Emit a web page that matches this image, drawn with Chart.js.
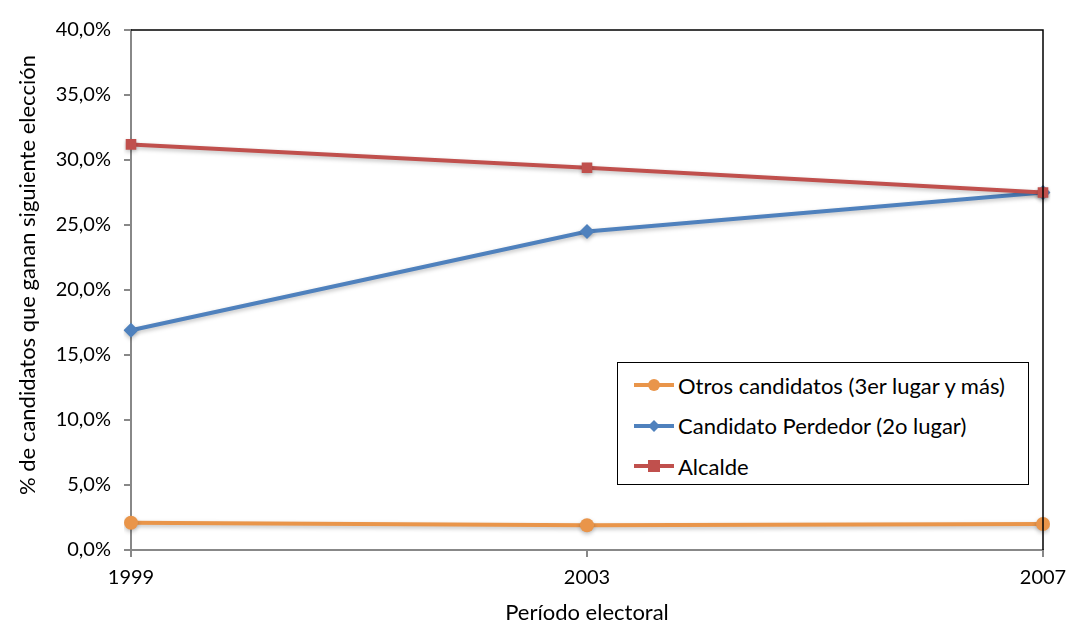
<!DOCTYPE html>
<html>
<head>
<meta charset="utf-8">
<script src="https://cdn.jsdelivr.net/npm/chart.js@4/dist/chart.umd.min.js"></script>
<style>
  html, body { margin: 0; padding: 0; background: #fff; }
  #wrap { position: relative; width: 1088px; height: 640px; }
  #legend {
    position: absolute; left: 617px; top: 362px; width: 412px; height: 123px;
    border: 1.5px solid #000; background: #fff; box-sizing: border-box;
    font-family: Lato, "Open Sans", sans-serif; font-size: 22px; color: #000;
    padding-top: 2px;
  }
  .leg-item { display: flex; align-items: center; height: 40.5px; padding-left: 16px; }
  .leg-swatch { width: 40px; height: 20px; margin-right: 4px; flex: none; }
</style>
</head>
<body>
<div id="wrap">
  <canvas id="c" width="1088" height="640"></canvas>
  <div id="legend"></div>
</div>
<script>
const YEARS = ['1999', '2003', '2007'];
const OTROS = [2.1, 1.9, 2.0];
const PERDEDOR = [16.9, 24.5, 27.5];
const ALCALDE = [31.2, 29.4, 27.5];
const Y_MIN = 0, Y_MAX = 40, Y_STEP = 5;
const Y_TITLE = '% de candidatos que ganan siguiente elección';

const COL = {
  otros: '#E9954A',
  perdedor: '#4F81BD',
  alcalde: '#C0504D',
};

const FONT = 'Lato, "Open Sans", sans-serif';

function fmtPct(v) {
  return v.toFixed(1).replace('.', ',') + '%';
}

function lineDS(label, data, color, style, radius) {
  return {
    label, data,
    borderColor: color,
    backgroundColor: color,
    borderWidth: 4,
    pointStyle: style,
    pointRadius: radius,
    pointBorderWidth: 0,
    pointBackgroundColor: color,
    tension: 0,
    fill: false,
  };
}

// black top/right edges of the plot area + y title (sits a bit above centre, as in Excel)
const framePlugin = {
  id: 'frame',
  afterDraw(chart) {
    const { ctx, chartArea: a } = chart;
    ctx.save();
    ctx.strokeStyle = '#000';
    ctx.lineWidth = 1.5;
    ctx.beginPath();
    ctx.moveTo(a.left, a.top);
    ctx.lineTo(a.right, a.top);
    ctx.lineTo(a.right, a.bottom);
    ctx.stroke();

    ctx.translate(28, (a.top + a.bottom) / 2 - 15);
    ctx.rotate(-Math.PI / 2);
    ctx.fillStyle = '#000';
    ctx.font = '22px ' + FONT;
    ctx.textAlign = 'center';
    ctx.textBaseline = 'middle';
    ctx.fillText(Y_TITLE, 0, 0);
    ctx.restore();
  }
};

const shadowPlugin = {
  id: 'shadow',
  beforeDatasetsDraw(chart) {
    const ctx = chart.ctx;
    ctx.save();
    ctx.shadowColor = 'rgba(0,0,0,0.25)';
    ctx.shadowBlur = 4;
    ctx.shadowOffsetY = 2;
  },
  afterDatasetsDraw(chart) {
    chart.ctx.restore();
  }
};

new Chart(document.getElementById('c'), {
  type: 'line',
  data: {
    labels: YEARS,
    datasets: [
      lineDS('Alcalde', ALCALDE, COL.alcalde, 'rect', 7.5),
      lineDS('Candidato Perdedor (2o lugar)', PERDEDOR, COL.perdedor, 'rectRot', 7.5),
      lineDS('Otros candidatos (3er lugar y más)', OTROS, COL.otros, 'circle', 7),
    ],
  },
  options: {
    responsive: false,
    animation: false,
    layout: { padding: { top: 30, right: 45, left: 0, bottom: 0 } },
    plugins: { legend: { display: false }, tooltip: { enabled: false } },
    scales: {
      x: {
        offset: false,
        afterFit: s => { s.height = 90; },
        grid: { drawOnChartArea: false, drawTicks: true, tickLength: 7, color: '#888', lineWidth: 2 },
        border: { color: '#888', width: 2 },
        ticks: { color: '#000', font: { family: FONT, size: 20 }, padding: 9, maxRotation: 0 },
        title: { display: true, text: 'Período electoral', color: '#000', font: { family: FONT, size: 22 }, padding: { top: 4, bottom: 14 } },
      },
      y: {
        min: Y_MIN, max: Y_MAX,
        afterFit: s => { s.width = 131; },
        grid: { drawOnChartArea: false, drawTicks: true, tickLength: 7, color: '#888', lineWidth: 2 },
        border: { color: '#888', width: 2 },
        ticks: { stepSize: Y_STEP, color: '#000', font: { family: FONT, size: 20 }, padding: 13, callback: v => fmtPct(v) },
      },
    },
  },
  plugins: [shadowPlugin, framePlugin],
});

// legend
const LEGEND = [
  [COL.otros, 'circle', 'Otros candidatos (3er lugar y más)'],
  [COL.perdedor, 'diamond', 'Candidato Perdedor (2o lugar)'],
  [COL.alcalde, 'square', 'Alcalde'],
];
function swatchSVG(color, shape) {
  let m;
  if (shape === 'circle') m = `<circle cx="20" cy="10" r="6" fill="${color}"/>`;
  else if (shape === 'diamond') m = `<polygon points="20,4 26,10 20,16 14,10" fill="${color}"/>`;
  else m = `<rect x="14" y="4" width="12" height="12" fill="${color}"/>`;
  return `<svg class="leg-swatch" viewBox="0 0 40 20"><line x1="0" y1="10" x2="40" y2="10" stroke="${color}" stroke-width="4"/>${m}</svg>`;
}
document.getElementById('legend').innerHTML = LEGEND.map(([c, s, t]) =>
  `<div class="leg-item">${swatchSVG(c, s)}<span>${t}</span></div>`).join('');
</script>
</body>
</html>
